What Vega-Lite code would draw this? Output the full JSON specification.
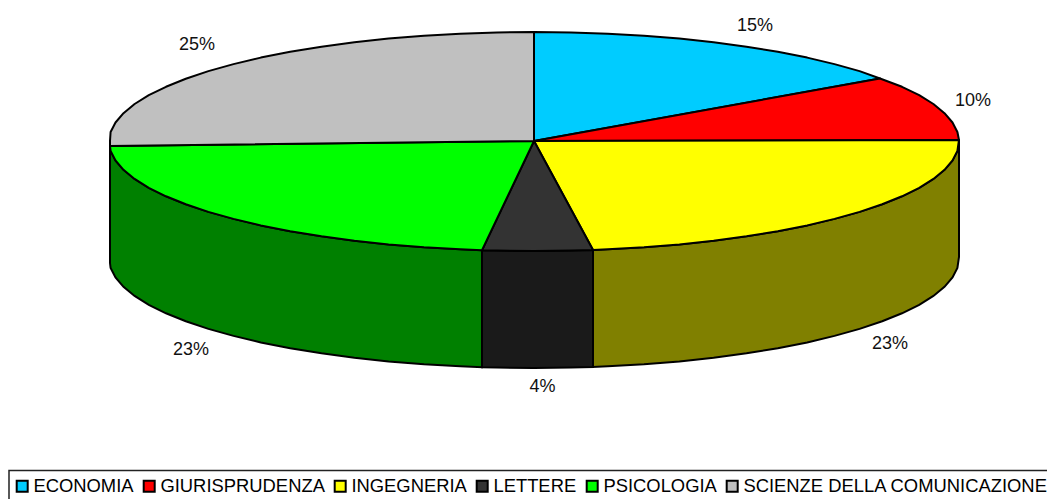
{"$schema":"https://vega.github.io/schema/vega-lite/v6.json","width":1047,"height":499,"padding":0,"autosize":{"type":"none"},"background":"white","config":{"view":{"stroke":null},"font":"Liberation Sans"},
"datasets":{
"walls":[
{"slice":"INGEGNERIA","x":593,"y":250,"y2":367},{"slice":"INGEGNERIA","x":607.8,"y":249.3,"y2":366.3},{"slice":"INGEGNERIA","x":644,"y":247.3,"y2":364.3},{"slice":"INGEGNERIA","x":679.4,"y":244.4,"y2":361.4},{"slice":"INGEGNERIA","x":713.6,"y":240.7,"y2":357.7},{"slice":"INGEGNERIA","x":746.5,"y":236.3,"y2":353.3},{"slice":"INGEGNERIA","x":777.8,"y":231.2,"y2":348.2},{"slice":"INGEGNERIA","x":807.2,"y":225.4,"y2":342.4},{"slice":"INGEGNERIA","x":834.5,"y":218.9,"y2":335.9},{"slice":"INGEGNERIA","x":859.6,"y":211.9,"y2":328.9},{"slice":"INGEGNERIA","x":882.2,"y":204.3,"y2":321.3},{"slice":"INGEGNERIA","x":902,"y":196.3,"y2":313.3},{"slice":"INGEGNERIA","x":919.2,"y":187.8,"y2":304.8},{"slice":"INGEGNERIA","x":933.4,"y":178.9,"y2":295.9},{"slice":"INGEGNERIA","x":944.5,"y":169.8,"y2":286.8},{"slice":"INGEGNERIA","x":952.5,"y":160.5,"y2":277.5},{"slice":"INGEGNERIA","x":957.4,"y":151,"y2":268},{"slice":"INGEGNERIA","x":959,"y":140,"y2":257},
{"slice":"LETTERE","x":482,"y":250.2,"y2":367.2},{"slice":"LETTERE","x":497,"y":250.6,"y2":367.6},{"slice":"LETTERE","x":534,"y":251,"y2":368},{"slice":"LETTERE","x":571,"y":250.6,"y2":367.6},{"slice":"LETTERE","x":593,"y":250,"y2":367},
{"slice":"PSICOLOGIA","x":110,"y":146,"y2":263},{"slice":"PSICOLOGIA","x":110.6,"y":151,"y2":268},{"slice":"PSICOLOGIA","x":115.5,"y":160.5,"y2":277.5},{"slice":"PSICOLOGIA","x":123.5,"y":169.8,"y2":286.8},{"slice":"PSICOLOGIA","x":134.6,"y":178.9,"y2":295.9},{"slice":"PSICOLOGIA","x":148.8,"y":187.8,"y2":304.8},{"slice":"PSICOLOGIA","x":166,"y":196.3,"y2":313.3},{"slice":"PSICOLOGIA","x":185.8,"y":204.3,"y2":321.3},{"slice":"PSICOLOGIA","x":208.4,"y":211.9,"y2":328.9},{"slice":"PSICOLOGIA","x":233.5,"y":218.9,"y2":335.9},{"slice":"PSICOLOGIA","x":260.8,"y":225.4,"y2":342.4},{"slice":"PSICOLOGIA","x":290.2,"y":231.2,"y2":348.2},{"slice":"PSICOLOGIA","x":321.5,"y":236.3,"y2":353.3},{"slice":"PSICOLOGIA","x":354.4,"y":240.7,"y2":357.7},{"slice":"PSICOLOGIA","x":388.6,"y":244.4,"y2":361.4},{"slice":"PSICOLOGIA","x":424,"y":247.3,"y2":364.3},{"slice":"PSICOLOGIA","x":460.2,"y":249.3,"y2":366.3},{"slice":"PSICOLOGIA","x":482,"y":250.2,"y2":367.2}
],
"top":[
{"slice":"ECONOMIA","n":0,"x":534,"y":141},{"slice":"ECONOMIA","n":1,"x":534,"y":32},{"slice":"ECONOMIA","n":2,"x":571,"y":32.4},{"slice":"ECONOMIA","n":3,"x":607.8,"y":33.7},{"slice":"ECONOMIA","n":4,"x":644,"y":35.7},{"slice":"ECONOMIA","n":5,"x":679.4,"y":38.6},{"slice":"ECONOMIA","n":6,"x":713.6,"y":42.3},{"slice":"ECONOMIA","n":7,"x":746.5,"y":46.7},{"slice":"ECONOMIA","n":8,"x":777.8,"y":51.8},{"slice":"ECONOMIA","n":9,"x":807.2,"y":57.6},{"slice":"ECONOMIA","n":10,"x":834.5,"y":64.1},{"slice":"ECONOMIA","n":11,"x":859.6,"y":71.1},{"slice":"ECONOMIA","n":12,"x":880,"y":78.5},{"slice":"ECONOMIA","n":13,"x":534,"y":141},
{"slice":"GIURISPRUDENZA","n":0,"x":534,"y":141},{"slice":"GIURISPRUDENZA","n":1,"x":880,"y":78.5},{"slice":"GIURISPRUDENZA","n":2,"x":902,"y":86.8},{"slice":"GIURISPRUDENZA","n":3,"x":919.2,"y":95.2},{"slice":"GIURISPRUDENZA","n":4,"x":933.4,"y":104},{"slice":"GIURISPRUDENZA","n":5,"x":944.5,"y":113.2},{"slice":"GIURISPRUDENZA","n":6,"x":952.5,"y":122.5},{"slice":"GIURISPRUDENZA","n":7,"x":957.4,"y":132},{"slice":"GIURISPRUDENZA","n":8,"x":959,"y":140},{"slice":"GIURISPRUDENZA","n":9,"x":534,"y":141},
{"slice":"INGEGNERIA","n":0,"x":534,"y":141},{"slice":"INGEGNERIA","n":1,"x":959,"y":140},{"slice":"INGEGNERIA","n":2,"x":957.4,"y":151},{"slice":"INGEGNERIA","n":3,"x":952.5,"y":160.5},{"slice":"INGEGNERIA","n":4,"x":944.5,"y":169.8},{"slice":"INGEGNERIA","n":5,"x":933.4,"y":178.9},{"slice":"INGEGNERIA","n":6,"x":919.2,"y":187.8},{"slice":"INGEGNERIA","n":7,"x":902,"y":196.3},{"slice":"INGEGNERIA","n":8,"x":882.2,"y":204.3},{"slice":"INGEGNERIA","n":9,"x":859.6,"y":211.9},{"slice":"INGEGNERIA","n":10,"x":834.5,"y":218.9},{"slice":"INGEGNERIA","n":11,"x":807.2,"y":225.4},{"slice":"INGEGNERIA","n":12,"x":777.8,"y":231.2},{"slice":"INGEGNERIA","n":13,"x":746.5,"y":236.3},{"slice":"INGEGNERIA","n":14,"x":713.6,"y":240.7},{"slice":"INGEGNERIA","n":15,"x":679.4,"y":244.4},{"slice":"INGEGNERIA","n":16,"x":644,"y":247.3},{"slice":"INGEGNERIA","n":17,"x":607.8,"y":249.3},{"slice":"INGEGNERIA","n":18,"x":593,"y":250},{"slice":"INGEGNERIA","n":19,"x":534,"y":141},
{"slice":"LETTERE","n":0,"x":534,"y":141},{"slice":"LETTERE","n":1,"x":593,"y":250},{"slice":"LETTERE","n":2,"x":571,"y":250.6},{"slice":"LETTERE","n":3,"x":534,"y":251},{"slice":"LETTERE","n":4,"x":497,"y":250.6},{"slice":"LETTERE","n":5,"x":482,"y":250.2},{"slice":"LETTERE","n":6,"x":534,"y":141},
{"slice":"PSICOLOGIA","n":0,"x":534,"y":141},{"slice":"PSICOLOGIA","n":1,"x":482,"y":250.2},{"slice":"PSICOLOGIA","n":2,"x":460.2,"y":249.3},{"slice":"PSICOLOGIA","n":3,"x":424,"y":247.3},{"slice":"PSICOLOGIA","n":4,"x":388.6,"y":244.4},{"slice":"PSICOLOGIA","n":5,"x":354.4,"y":240.7},{"slice":"PSICOLOGIA","n":6,"x":321.5,"y":236.3},{"slice":"PSICOLOGIA","n":7,"x":290.2,"y":231.2},{"slice":"PSICOLOGIA","n":8,"x":260.8,"y":225.4},{"slice":"PSICOLOGIA","n":9,"x":233.5,"y":218.9},{"slice":"PSICOLOGIA","n":10,"x":208.4,"y":211.9},{"slice":"PSICOLOGIA","n":11,"x":185.8,"y":204.3},{"slice":"PSICOLOGIA","n":12,"x":166,"y":196.3},{"slice":"PSICOLOGIA","n":13,"x":148.8,"y":187.8},{"slice":"PSICOLOGIA","n":14,"x":134.6,"y":178.9},{"slice":"PSICOLOGIA","n":15,"x":123.5,"y":169.8},{"slice":"PSICOLOGIA","n":16,"x":115.5,"y":160.5},{"slice":"PSICOLOGIA","n":17,"x":110.6,"y":151},{"slice":"PSICOLOGIA","n":18,"x":110,"y":146},{"slice":"PSICOLOGIA","n":19,"x":534,"y":141},
{"slice":"SCIENZE DELLA COMUNICAZIONE","n":0,"x":534,"y":141},{"slice":"SCIENZE DELLA COMUNICAZIONE","n":1,"x":110,"y":146},{"slice":"SCIENZE DELLA COMUNICAZIONE","n":2,"x":110,"y":141},{"slice":"SCIENZE DELLA COMUNICAZIONE","n":3,"x":110.6,"y":132},{"slice":"SCIENZE DELLA COMUNICAZIONE","n":4,"x":115.5,"y":122.5},{"slice":"SCIENZE DELLA COMUNICAZIONE","n":5,"x":123.5,"y":113.2},{"slice":"SCIENZE DELLA COMUNICAZIONE","n":6,"x":134.6,"y":104},{"slice":"SCIENZE DELLA COMUNICAZIONE","n":7,"x":148.8,"y":95.2},{"slice":"SCIENZE DELLA COMUNICAZIONE","n":8,"x":166,"y":86.8},{"slice":"SCIENZE DELLA COMUNICAZIONE","n":9,"x":185.8,"y":78.7},{"slice":"SCIENZE DELLA COMUNICAZIONE","n":10,"x":208.4,"y":71.1},{"slice":"SCIENZE DELLA COMUNICAZIONE","n":11,"x":233.5,"y":64.1},{"slice":"SCIENZE DELLA COMUNICAZIONE","n":12,"x":260.8,"y":57.6},{"slice":"SCIENZE DELLA COMUNICAZIONE","n":13,"x":290.2,"y":51.8},{"slice":"SCIENZE DELLA COMUNICAZIONE","n":14,"x":321.5,"y":46.7},{"slice":"SCIENZE DELLA COMUNICAZIONE","n":15,"x":354.4,"y":42.3},{"slice":"SCIENZE DELLA COMUNICAZIONE","n":16,"x":388.6,"y":38.6},{"slice":"SCIENZE DELLA COMUNICAZIONE","n":17,"x":424,"y":35.7},{"slice":"SCIENZE DELLA COMUNICAZIONE","n":18,"x":460.2,"y":33.7},{"slice":"SCIENZE DELLA COMUNICAZIONE","n":19,"x":497,"y":32.4},{"slice":"SCIENZE DELLA COMUNICAZIONE","n":20,"x":534,"y":32},{"slice":"SCIENZE DELLA COMUNICAZIONE","n":21,"x":534,"y":141}
],
"labels":[
{"slice":"ECONOMIA","pct":"15%","x":755,"y":26},{"slice":"GIURISPRUDENZA","pct":"10%","x":973,"y":101},{"slice":"INGEGNERIA","pct":"23%","x":890,"y":344},{"slice":"LETTERE","pct":"4%","x":542.5,"y":387},{"slice":"PSICOLOGIA","pct":"23%","x":191,"y":350},{"slice":"SCIENZE DELLA COMUNICAZIONE","pct":"25%","x":197,"y":45}
],
"legendFrame":[{"x":9,"x2":1060,"y":470.5,"y2":510}]},
"layer":[
{"data":{"name":"legendFrame"},"mark":{"type":"rect","fillOpacity":0,"stroke":"#222222","strokeWidth":1.5},
"encoding":{"x":{"field":"x","type":"quantitative","scale":{"domain":[0,1047]},"axis":null},"x2":{"field":"x2"},"y":{"field":"y","type":"quantitative","scale":{"domain":[499,0]},"axis":null},"y2":{"field":"y2"}}},
{"data":{"name":"walls"},"mark":{"type":"area","stroke":"black","strokeWidth":2,"fillOpacity":1},
"encoding":{"x":{"field":"x","type":"quantitative","scale":{"domain":[0,1047]},"axis":null},"y":{"field":"y","type":"quantitative","scale":{"domain":[499,0]},"axis":null},"y2":{"field":"y2"},
"fill":{"field":"slice","type":"nominal","legend":null,"scale":{"domain":["INGEGNERIA","LETTERE","PSICOLOGIA"],"range":["#808000","#1a1a1a","#008000"]}}}},
{"data":{"name":"top"},"mark":{"type":"line","stroke":"black","strokeWidth":2,"strokeJoin":"round"},
"encoding":{"x":{"field":"x","type":"quantitative","scale":{"domain":[0,1047]},"axis":null},"y":{"field":"y","type":"quantitative","scale":{"domain":[499,0]},"axis":null},"order":{"field":"n","type":"quantitative"},
"fill":{"field":"slice","type":"nominal","scale":{"domain":["ECONOMIA","GIURISPRUDENZA","INGEGNERIA","LETTERE","PSICOLOGIA","SCIENZE DELLA COMUNICAZIONE"],"range":["#00ccff","#ff0000","#ffff00","#333333","#00ff00","#c0c0c0"]},
"legend":{"title":null,"orient":"none","legendX":9,"legendY":470,"direction":"horizontal","columns":6,"symbolType":"square","symbolSize":121,"symbolOffset":-3,"symbolStrokeColor":"black","symbolStrokeWidth":2,"symbolOpacity":1,"labelFontSize":18.4,"labelFont":"Liberation Sans","labelColor":"black","labelLimit":400,"labelOffset":2,"columnPadding":5,"padding":7}}}},
{"data":{"name":"labels"},"mark":{"type":"text","fontSize":18,"font":"Liberation Sans","color":"#111111","align":"center","baseline":"middle"},
"encoding":{"x":{"field":"x","type":"quantitative","scale":{"domain":[0,1047]},"axis":null},"y":{"field":"y","type":"quantitative","scale":{"domain":[499,0]},"axis":null},"text":{"field":"pct","type":"nominal"}}}
],
"resolve":{"scale":{"fill":"independent"}}}
